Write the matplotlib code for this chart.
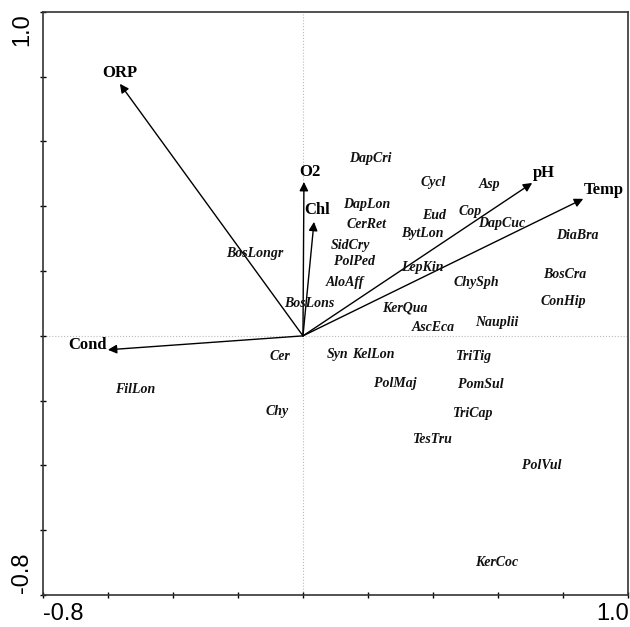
import numpy as np
import matplotlib
matplotlib.use("Agg")
import matplotlib.pyplot as plt

# environmental vectors (arrow tips)
env_names = ['ORP', 'O2', 'Chl', 'pH', 'Temp', 'Cond']
env_x = [-0.563, 0.003, 0.034, 0.705, 0.862, -0.600]
env_y = [0.778, 0.475, 0.352, 0.472, 0.423, -0.043]
# where the label sits relative to the tip (offset in points)
env_off = [(0, 8), (4.5, 7.5), (2, 8.5), (8.5, 7.5), (15, 6.5), (-14.5, 3.5)]

# species scores
sp_names = ['DapCri', 'Cycl', 'Asp', 'DapLon', 'Eud', 'Cop', 'CerRet', 'BytLon',
            'DapCuc', 'DiaBra', 'SidCry', 'PolPed', 'BosLongr', 'AloAff', 'LepKin',
            'ChySph', 'BosCra', 'BosLons', 'KerQua', 'ConHip', 'AscEca', 'Nauplii',
            'Cer', 'Syn', 'KelLon', 'TriTig', 'FilLon', 'PolMaj', 'PomSul', 'Chy',
            'TriCap', 'TesTru', 'PolVul', 'KerCoc']
sp_x = [0.206, 0.400, 0.575, 0.197, 0.403, 0.514, 0.194, 0.366,
        0.612, 0.843, 0.145, 0.160, -0.148, 0.129, 0.366,
        0.532, 0.806, 0.018, 0.314, 0.800, 0.400, 0.597,
        -0.071, 0.105, 0.218, 0.526, -0.517, 0.283, 0.548, -0.080,
        0.523, 0.400, 0.735, 0.597]
sp_y = [0.549, 0.472, 0.466, 0.407, 0.373, 0.383, 0.343, 0.315,
        0.346, 0.309, 0.278, 0.231, 0.253, 0.164, 0.210,
        0.164, 0.188, 0.099, 0.086, 0.105, 0.025, 0.040,
        -0.065, -0.056, -0.056, -0.065, -0.167, -0.148, -0.151, -0.235,
        -0.241, -0.321, -0.401, -0.701]

serif = 'Liberation Serif'

fig = plt.figure(figsize=(6.3, 6.27), dpi=100)
ax = fig.add_axes([0.068, 0.051, 0.929, 0.930])
ax.set_xlim(-0.8, 1.0)
ax.set_ylim(-0.8, 1.0)

ax.axhline(0, color='#bbbbbb', lw=0.8, ls=':', zorder=0)
ax.axvline(0, color='#bbbbbb', lw=0.8, ls=':', zorder=0)

for name, x, y, off in zip(env_names, env_x, env_y, env_off):
    ax.annotate('', xy=(x, y), xytext=(0, 0),
                arrowprops=dict(arrowstyle='-|>', color='black', lw=1.0,
                                mutation_scale=13, shrinkA=0, shrinkB=0))
    ax.annotate(name, xy=(x, y), xytext=off, textcoords='offset points',
                ha='center', va='center', fontsize=12, fontweight='bold',
                family=serif)

for name, x, y in zip(sp_names, sp_x, sp_y):
    ax.text(x, y, name, ha='center', va='center', fontsize=10,
            fontweight='bold', style='italic', family=serif, color='#111111')

ticks = np.arange(-0.8, 1.01, 0.2)
ax.set_xticks(ticks)
ax.set_yticks(ticks)
ax.set_xticklabels([])
ax.set_yticklabels([])
ax.tick_params(direction='inout', length=5, width=1)
for s in ax.spines.values():
    s.set_linewidth(1.2)
    s.set_color('#333333')

sans = 'Liberation Sans'
fig.text(43 / 630, 1 - 614 / 627, '-0.8', ha='left', va='center', fontsize=17, family=sans)
fig.text(629 / 630, 1 - 614 / 627, '1.0', ha='right', va='center', fontsize=17, family=sans)
fig.text(22 / 630, 1 - 30 / 627, '1.0', ha='center', va='center', rotation=90, fontsize=17, family=sans)
fig.text(22 / 630, 1 - 573 / 627, '-0.8', ha='center', va='center', rotation=90, fontsize=17, family=sans)

fig.savefig('out.png', dpi=100)
